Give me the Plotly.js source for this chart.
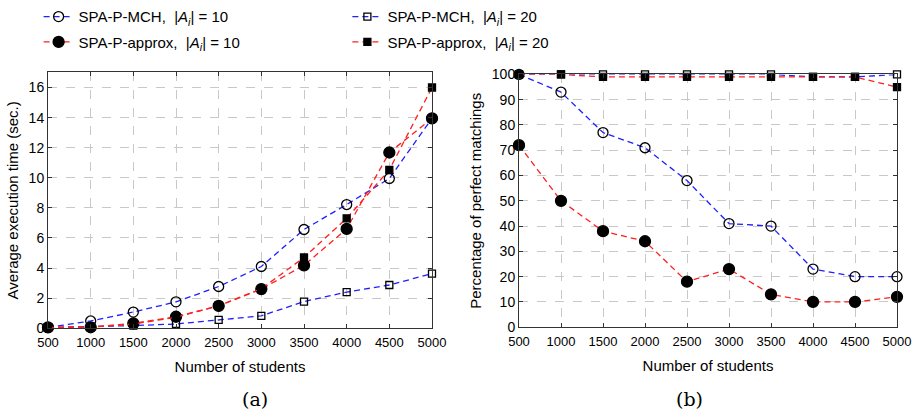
<!DOCTYPE html>
<html><head><meta charset="utf-8">
<script src="https://cdn.plot.ly/plotly-3.0.1.min.js"></script>
<style>body{margin:0;background:#fff}#chart{width:919px;height:417px}</style>
</head><body><div id="chart"></div>
<script>
const students = [500,1000,1500,2000,2500,3000,3500,4000,4500,5000];
const timeMch10 = [0.05,0.48,1.07,1.75,2.77,4.1,6.56,8.22,9.95,13.95];
const timeMch20 = [0.05,0.1,0.17,0.28,0.55,0.82,1.77,2.4,2.87,3.63];
const timeApx10 = [0.05,0.06,0.32,0.76,1.48,2.6,4.18,6.6,11.68,13.95];
const timeApx20 = [0.05,0.08,0.28,0.72,1.5,2.62,4.7,7.3,10.53,16.0];
const pctMch10 = [100,93,77,71,58,41,40,23,20,20];
const pctMch20 = [100,100,100,100,100,100,100,99,99,100];
const pctApx10 = [72,50,38,34,18,23,13,10,10,12];
const pctApx20 = [100,100,99,99,99,99,99,99,99,95];
const xTicks = [500,1000,1500,2000,2500,3000,3500,4000,4500,5000];
const names = ['SPA-P-MCH,  |<i>A</i><sub><i>i</i></sub>| = 10','SPA-P-approx,  |<i>A</i><sub><i>i</i></sub>| = 10','SPA-P-MCH,  |<i>A</i><sub><i>i</i></sub>| = 20','SPA-P-approx,  |<i>A</i><sub><i>i</i></sub>| = 20'];

const BLUE='#1f1fff', RED='#ff1f1f';
const dash='6px,4px';
function tr(y, xa, ya, color, sym, size, name, leg, show){
  return {x: students, y: y, xaxis: xa, yaxis: ya, type:'scatter', mode:'lines+markers',
    name: name, legend: leg, showlegend: show, cliponaxis:false,
    line:{color:color, width:1.3, dash:dash},
    marker:{symbol:sym, size:size, color:'#000', line:{color:'#000', width:1.3}}};
}
const data = [
  tr(timeMch10,'x','y',BLUE,'circle-open',10,names[0],'legend',true),
  tr(timeMch20,'x','y',BLUE,'square-open',7,names[2],'legend3',true),
  tr(timeApx10,'x','y',RED,'circle',11,names[1],'legend2',true),
  tr(timeApx20,'x','y',RED,'square',7,names[3],'legend4',true),
  tr(pctMch10,'x2','y2',BLUE,'circle-open',10,names[0],'legend',false),
  tr(pctMch20,'x2','y2',BLUE,'square-open',7,names[2],'legend3',false),
  tr(pctApx10,'x2','y2',RED,'circle',11,names[1],'legend2',false),
  tr(pctApx20,'x2','y2',RED,'square',7,names[3],'legend4',false)
];
const tickFont = {family:'"Liberation Sans Narrow", "Liberation Sans", Arial, sans-serif', size:13, color:'#000'};
const yTickFont = {family:'"Liberation Sans", Arial, sans-serif', size:14, color:'#000'};
function xax(dom){
  return {domain:dom, range:[500,5000], tickvals:xTicks, ticktext:xTicks.map(String),
    showgrid:true, gridcolor:'#c8c8c8', griddash:'dash', gridwidth:1,
    showline:true, linecolor:'#333', linewidth:1, mirror:'ticks', ticks:'inside', ticklen:4, tickcolor:'#333',
    tickfont:tickFont, zeroline:false, ticklabelstandoff:2,
    title:{text:'Number of students', font:{family:tickFont.family, size:15, color:'#000'}, standoff:12}};
}
function yax(dom, range, dtick, title){
  return {domain:dom, range:range, dtick:dtick, tick0:0,
    showgrid:true, gridcolor:'#c8c8c8', griddash:'dash', gridwidth:1,
    showline:true, linecolor:'#333', linewidth:1, mirror:'ticks', ticks:'inside', ticklen:4, tickcolor:'#333',
    tickfont:yTickFont, zeroline:false,
    title:{text:title, font:{family:yTickFont.family, size:15, color:'#000'}, standoff:6}};
}
const legFont = {family:'"Liberation Sans", Arial, sans-serif', size:15, color:'#000'};
function leg(x,y){ return {x:x, y:y, xanchor:'left', yanchor:'middle', font:legFont, bgcolor:'rgba(0,0,0,0)', borderwidth:0, itemwidth:30}; }
const layout = {
  width:919, height:417, margin:{l:0,r:0,t:0,b:0},
  paper_bgcolor:'#fff', plot_bgcolor:'#fff',
  xaxis: xax([48/919, 432/919]),
  yaxis: yax([1-326/417, 1-64/417], [0,17], 2, 'Average execution time (sec.)'),
  xaxis2: Object.assign(xax([519/919, 897/919]), {anchor:'y2'}),
  yaxis2: Object.assign(yax([1-325/417, 1-66/417], [0,100], 10, 'Percentage of perfect matchings'), {anchor:'x2'}),
  legend: leg(0.042, 1-7/417),
  legend2: leg(0.042, 1-33/417),
  legend3: leg(0.378, 1-7/417),
  legend4: leg(0.378, 1-33/417),
  annotations:[
    {text:'(a)', x:240/919, y:1-399/417, xref:'paper', yref:'paper', yanchor:'middle', showarrow:false, font:{family:'"DejaVu Serif", "Liberation Serif", serif', size:19, color:'#000'}},
    {text:'(b)', x:705/919, y:1-399/417, xref:'paper', yref:'paper', yanchor:'middle', showarrow:false, font:{family:'"DejaVu Serif", "Liberation Serif", serif', size:19, color:'#000'}}
  ]
};
layout.xaxis.anchor='y'; layout.yaxis.anchor='x';
Plotly.newPlot('chart', data, layout, {displayModeBar:false, staticPlot:true});
</script></body></html>
